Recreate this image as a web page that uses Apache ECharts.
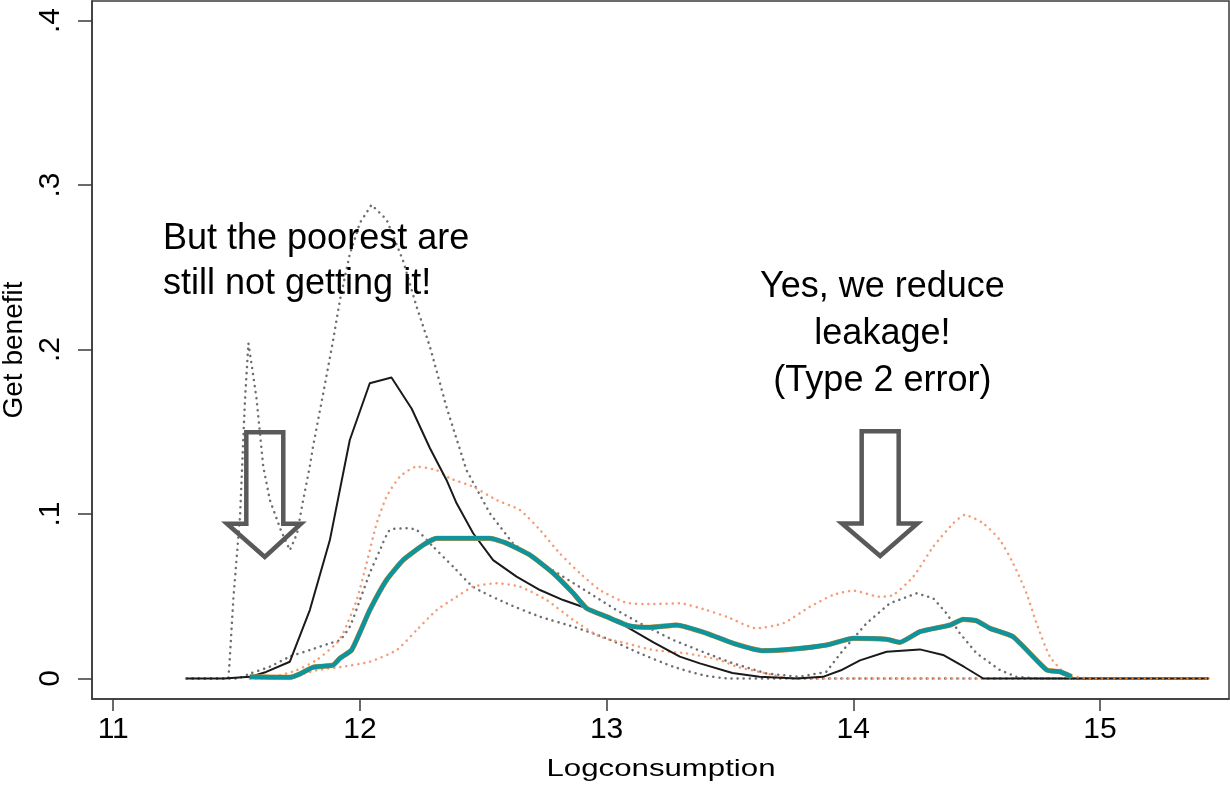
<!DOCTYPE html>
<html>
<head>
<meta charset="utf-8">
<script src="https://cdn.jsdelivr.net/npm/echarts@6/dist/echarts.min.js"></script>
<style>
html,body{margin:0;padding:0;background:#fff;}
#chart{width:1230px;height:786px;}
</style>
</head>
<body>
<div id="chart"></div>
<script>
// ---- Data ----
const xTicks = [11, 12, 13, 14, 15];
const yTicks = [0, 0.1, 0.2, 0.3, 0.4];
const yTickLabels = ['0', '.1', '.2', '.3', '.4'];
const xTitle = 'Logconsumption';
const yTitle = 'Get benefit';

// Black solid line (old targeting)
const blackMean = [[11.297,0],[11.45,0],[11.554,0.001],[11.62,0.004],[11.716,0.0102],[11.797,0.0416],[11.878,0.084],[11.959,0.145],[12.04,0.1795],[12.128,0.183],[12.21,0.164],[12.284,0.14],[12.351,0.1207],[12.392,0.1065],[12.459,0.0883],[12.54,0.072],[12.635,0.0619],[12.73,0.0538],[12.824,0.0477],[12.919,0.0427],[13.0,0.0376],[13.08,0.0315],[13.19,0.022],[13.297,0.0133],[13.378,0.0092],[13.51,0.0033],[13.62,0.001],[13.77,0],[13.877,0.001],[13.95,0.005],[14.027,0.011],[14.135,0.0163],[14.27,0.0177],[14.364,0.0143],[14.45,0.007],[14.527,0],[15.44,0]];
// Gray dotted confidence band of the black line
const blackUpper = [[11.297,0],[11.4665,0],[11.4705,0.0072],[11.4867,0.0477],[11.514,0.0984],[11.534,0.169],[11.548,0.2038],[11.562,0.19],[11.581,0.17],[11.608,0.129],[11.635,0.1085],[11.68,0.09],[11.716,0.078],[11.745,0.088],[11.77,0.1085],[11.797,0.129],[11.81,0.141],[11.838,0.163],[11.851,0.173],[11.892,0.206],[11.919,0.23],[11.959,0.258],[12.0,0.277],[12.047,0.288],[12.108,0.279],[12.175,0.254],[12.23,0.226],[12.284,0.2017],[12.351,0.165],[12.432,0.1267],[12.527,0.1004],[12.62,0.0822],[12.716,0.072],[12.824,0.0619],[12.932,0.0518],[13.04,0.0416],[13.148,0.0325],[13.27,0.0234],[13.405,0.0153],[13.513,0.0092],[13.65,0.003],[13.78,0.001],[13.89,0.004],[13.959,0.0173],[14.054,0.0336],[14.148,0.0457],[14.257,0.0518],[14.324,0.0488],[14.378,0.0396],[14.432,0.0275],[14.5,0.0153],[14.594,0.0052],[14.662,0.001],[14.75,0],[15.44,0]];
const blackLower = [[11.297,0],[11.5,0],[11.554,0.003],[11.635,0.0072],[11.716,0.0133],[11.797,0.0173],[11.878,0.0214],[11.919,0.0234],[11.959,0.0315],[12.0,0.0477],[12.04,0.064],[12.081,0.078],[12.122,0.0903],[12.189,0.0913],[12.23,0.0903],[12.297,0.0801],[12.378,0.068],[12.459,0.0558],[12.595,0.0457],[12.73,0.0376],[12.865,0.0315],[13.0,0.0244],[13.135,0.0153],[13.27,0.0072],[13.392,0.002],[13.5,0],[15.44,0]];
// Teal thick line (new targeting) with orange line beneath
const tealMean = [[11.554,0.001],[11.716,0.0007],[11.76,0.003],[11.81,0.0068],[11.892,0.0082],[11.919,0.0123],[11.966,0.0173],[12.0,0.028],[12.04,0.0416],[12.108,0.0599],[12.175,0.072],[12.257,0.0812],[12.31,0.0852],[12.446,0.0852],[12.527,0.0852],[12.595,0.0822],[12.69,0.075],[12.784,0.064],[12.865,0.0518],[12.919,0.0427],[13.0,0.0376],[13.094,0.0319],[13.176,0.0311],[13.284,0.0325],[13.405,0.0275],[13.513,0.0214],[13.635,0.0169],[13.756,0.0179],[13.892,0.0204],[14.0,0.0244],[14.135,0.0238],[14.189,0.022],[14.27,0.0285],[14.392,0.0325],[14.446,0.036],[14.5,0.0351],[14.554,0.0305],[14.648,0.0254],[14.784,0.0052],[14.838,0.0041],[14.885,0.0011]];
const orangeTail = [[14.885,0.0011],[14.95,0],[15.44,0]];
// Orange dotted confidence band of the teal line
const tealUpper = [[11.554,0],[11.65,0.001],[11.743,0.005],[11.824,0.0112],[11.905,0.0214],[11.932,0.0275],[11.987,0.0477],[12.027,0.07],[12.068,0.0943],[12.108,0.1105],[12.162,0.1227],[12.23,0.1288],[12.311,0.1267],[12.365,0.1217],[12.459,0.1166],[12.554,0.1085],[12.649,0.1024],[12.73,0.0903],[12.81,0.0761],[12.892,0.064],[12.973,0.0538],[13.08,0.0461],[13.189,0.0453],[13.297,0.0457],[13.405,0.0416],[13.486,0.0376],[13.608,0.0305],[13.716,0.0336],[13.824,0.0436],[13.918,0.0508],[14.0,0.0534],[14.108,0.0497],[14.162,0.0508],[14.243,0.0619],[14.324,0.0801],[14.405,0.0943],[14.452,0.0994],[14.527,0.0943],[14.594,0.0842],[14.648,0.07],[14.702,0.0518],[14.743,0.0336],[14.797,0.0133],[14.865,0.002],[14.9,0],[15.44,0]];
const tealLower = [[11.554,0],[11.716,0.0007],[11.824,0.005],[11.932,0.0072],[12.04,0.0102],[12.149,0.0173],[12.23,0.0295],[12.311,0.0416],[12.392,0.0497],[12.459,0.0558],[12.554,0.0579],[12.649,0.0558],[12.757,0.0477],[12.865,0.0356],[12.973,0.0254],[13.08,0.0214],[13.189,0.0173],[13.324,0.0153],[13.459,0.0112],[13.527,0.0072],[13.65,0.003],[13.75,0],[15.44,0]];

// Annotations (data coordinates)
const annotationTexts = ['But the poorest are\nstill not getting it!', 'Yes, we reduce\nleakage!\n(Type 2 error)'];
const annotationPos = [[11.2018, 0.2809], [14.118, 0.2525]];
const annotationAlign = ['left', 'center'];
// arrows: [shaftLeftX, shaftRightX, topY, headBaseY, headLeftX, headRightX, tipY]
const arrows = [
  [11.5395, 11.6894, 0.1497, 0.0941, 11.4612, 11.7612, 0.0739],
  [14.034, 14.184, 0.1503, 0.0943, 13.954, 14.260, 0.0745]
];

const FONT = "'Liberation Sans', Arial, Helvetica, sans-serif";
const AXIS_COLOR = '#3a3a3a';

const chart = echarts.init(document.getElementById('chart'), null, {renderer: 'canvas'});

function lineSeries(data, color, width, dash, z, smooth) {
  return {
    type: 'line', data: data, showSymbol: false, symbol: 'none',
    smooth: smooth || false,
    silent: true, z: z,
    lineStyle: {color: color, width: width, type: dash || 'solid', cap: dash ? 'round' : 'butt', join: 'round'}
  };
}

const dots = [0.1, 6];
const option = {
  animation: false,
  backgroundColor: '#fff',
  grid: {left: 92, right: 1, top: 1, bottom: 87, containLabel: false, outerBoundsMode: 'none',
         show: true, borderColor: AXIS_COLOR, borderWidth: 1.5, backgroundColor: 'transparent'},
  xAxis: {
    type: 'value', min: 10.914, max: 15.523,
    axisLine: {show: true, onZero: false, lineStyle: {color: AXIS_COLOR, width: 1.5}},
    axisTick: {show: true, customValues: xTicks, length: 12, lineStyle: {color: AXIS_COLOR, width: 1.5}},
    axisLabel: {customValues: xTicks, fontSize: 30, color: '#000', fontFamily: FONT, margin: 16},
    splitLine: {show: false}
  },
  yAxis: {
    type: 'value', min: -0.01246, max: 0.4119,
    name: yTitle, nameLocation: 'middle', nameGap: 60, nameRotate: 90,
    nameTextStyle: {fontSize: 28, color: '#000', fontFamily: FONT},
    axisLine: {show: true, onZero: false, lineStyle: {color: AXIS_COLOR, width: 1.5}},
    axisTick: {show: true, customValues: yTicks, length: 14, lineStyle: {color: AXIS_COLOR, width: 1.5}},
    axisLabel: {
      customValues: yTicks, rotate: 90, fontSize: 30, color: '#000', fontFamily: FONT, margin: 26,
      formatter: function (v) {
        let best = 0;
        for (let i = 0; i < yTicks.length; i++) if (Math.abs(yTicks[i] - v) < Math.abs(yTicks[best] - v)) best = i;
        return yTickLabels[best];
      }
    },
    splitLine: {show: false}
  },
  graphic: [{
    type: 'text', x: 661, y: 769, scaleX: 1.3, silent: true,
    style: {text: xTitle, fontSize: 24, fontFamily: FONT, fill: '#000', align: 'center', verticalAlign: 'middle'}
  }],
  series: [
    lineSeries(blackUpper, '#6e6e6e', 2.5, dots, 2, false),
    lineSeries(blackLower, '#6e6e6e', 2.5, dots, 2, 0.2),
    lineSeries(tealUpper, '#f59c74', 2.5, dots, 3, 0.2),
    lineSeries(tealLower, '#f59c74', 2.5, dots, 3, 0.2),
    lineSeries(blackMean, '#1a1a1a', 2, null, 4, false),
    lineSeries(tealMean, '#f08a2c', 5.2, null, 5, 0.15),
    lineSeries(orangeTail, '#e07a20', 2.5, dots, 5, false),
    lineSeries(tealMean, '#0e959c', 4.5, null, 6, 0.15),
    {
      type: 'custom', silent: true, z: 10,
      data: arrows,
      renderItem: function (params, api) {
        const a = arrows[params.dataIndex];
        const tipX = (a[0] + a[1]) / 2;
        const pts = [
          [a[0], a[2]], [a[1], a[2]], [a[1], a[3]], [a[5], a[3]],
          [tipX, a[6]], [a[4], a[3]], [a[0], a[3]]
        ].map(function (p) { return api.coord(p); });
        return {type: 'polygon', shape: {points: pts}, style: {fill: null, stroke: '#595959', lineWidth: 4.5, lineJoin: 'miter'}};
      }
    },
    {
      type: 'custom', silent: true, z: 11,
      data: annotationPos,
      renderItem: function (params, api) {
        const i = params.dataIndex;
        const p = api.coord(annotationPos[i]);
        return {
          type: 'text', x: p[0], y: p[1],
          style: {text: annotationTexts[i], fontSize: 36, fontFamily: FONT, fill: '#000',
                  align: annotationAlign[i], verticalAlign: 'top', lineHeight: i === 0 ? 45 : 47}
        };
      }
    }
  ]
};
chart.setOption(option);
</script>
</body>
</html>
